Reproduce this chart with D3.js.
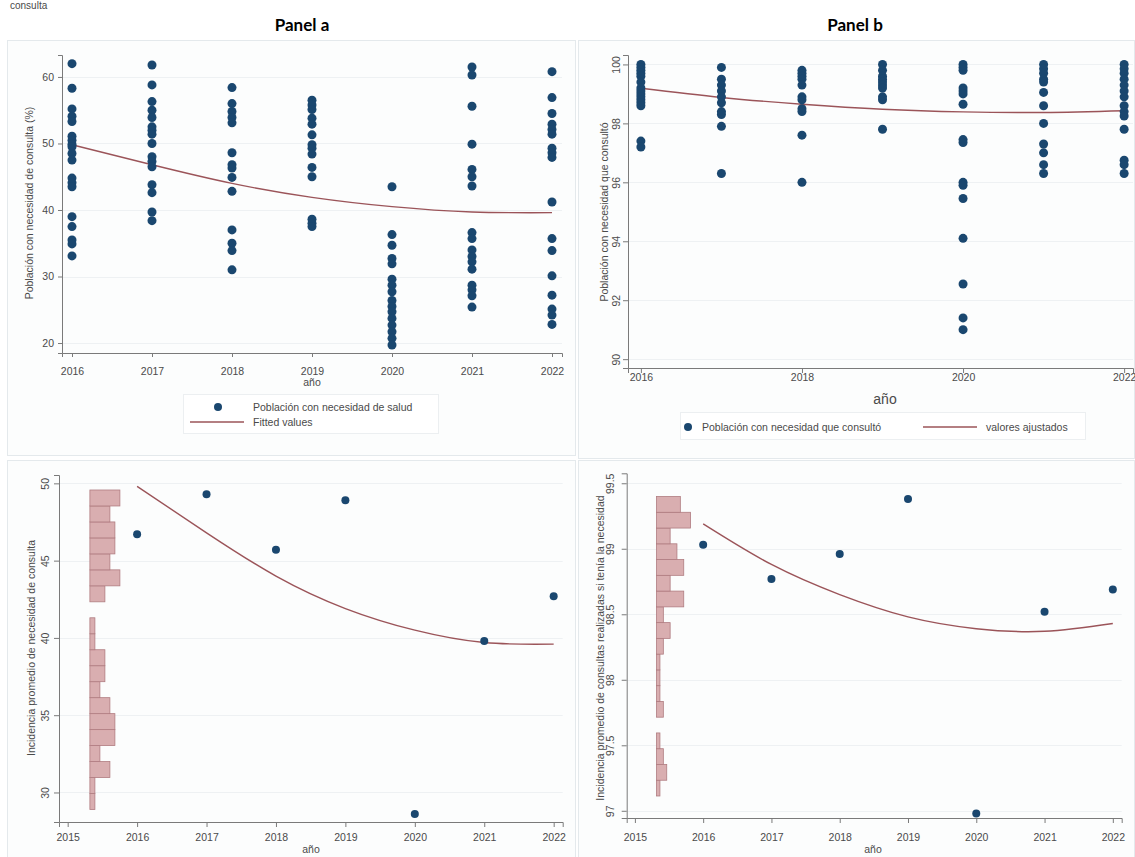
<!DOCTYPE html>
<html>
<head>
<meta charset="utf-8">
<script src="https://cdn.jsdelivr.net/npm/d3@7"></script>
<style>
  body { margin: 0; background: #fff; }
  text { font-family: "Liberation Sans", Arial, sans-serif; fill: #4a4a4a; }
  .title { font-family: Lato, "Open Sans", sans-serif; font-weight: 700; fill: #000; }
</style>
</head>
<body>
<script>
/* Data */

var years = [2016, 2017, 2018, 2019, 2020, 2021, 2022];

// panel a: población con necesidad de salud (%), one list per year
var necesidad2016 = [62.0, 58.3, 55.2, 54.1, 53.3, 51.1, 50.5, 49.9, 49.5, 48.5, 47.5, 44.8, 44.1, 43.5, 39.0, 37.5, 35.5, 34.9, 33.1];
var necesidad2017 = [61.8, 58.8, 56.3, 55.0, 53.9, 52.5, 52.0, 51.4, 50.0, 48.0, 47.3, 46.5, 43.8, 42.6, 39.7, 38.4];
var necesidad2018 = [58.4, 56.0, 54.8, 53.9, 53.1, 48.6, 46.8, 46.3, 44.9, 42.8, 37.0, 35.0, 33.9, 31.0];
var necesidad2019 = [56.5, 55.8, 55.1, 53.8, 52.9, 51.3, 49.8, 49.3, 48.4, 46.4, 45.0, 38.6, 38.0, 37.5];
var necesidad2020 = [43.5, 36.3, 34.7, 32.7, 31.9, 29.6, 28.7, 27.7, 26.4, 25.5, 24.7, 23.7, 22.7, 21.7, 20.7, 19.7];
var necesidad2021 = [61.5, 60.3, 55.6, 49.9, 46.1, 45.0, 43.6, 36.6, 35.7, 34.0, 33.0, 32.2, 31.1, 28.7, 28.0, 27.1, 25.4];
var necesidad2022 = [60.8, 56.9, 54.5, 52.9, 52.1, 51.4, 49.3, 48.6, 47.9, 41.2, 35.7, 33.9, 30.1, 27.2, 25.1, 24.2, 22.8];
var fittedA = [49.8, 46.8, 44.0, 41.9, 40.5, 39.7, 39.6];

// panel b: población con necesidad que consultó (%)
var consulto2016 = [100, 99.9, 99.8, 99.7, 99.6, 99.4, 99.2, 99.1, 99.0, 98.9, 98.8, 98.7, 98.6, 97.4, 97.2];
var consulto2017 = [99.9, 99.5, 99.3, 99.1, 98.9, 98.7, 98.4, 98.3, 97.9, 96.3];
var consulto2018 = [99.8, 99.7, 99.6, 99.5, 99.3, 98.9, 98.8, 98.5, 98.4, 97.6, 96.0];
var consulto2019 = [100, 99.8, 99.6, 99.5, 99.4, 99.3, 99.2, 98.9, 98.8, 97.8];
var consulto2020 = [100, 99.9, 99.8, 99.2, 99.1, 99.0, 98.65, 97.45, 97.35, 96.0, 95.9, 95.45, 94.1, 92.55, 91.4, 91.0];
var consulto2021 = [100, 99.85, 99.7, 99.5, 99.4, 99.05, 98.6, 98.0, 97.3, 97.0, 96.6, 96.3];
var consulto2022 = [100, 99.85, 99.7, 99.5, 99.3, 99.1, 98.9, 98.6, 98.4, 98.25, 97.8, 96.75, 96.6, 96.3];
var fittedB = [99.19, 98.88, 98.65, 98.48, 98.39, 98.37, 98.43];

// promedios anuales (bottom panels)
var meanA = [46.7, 49.3, 45.7, 48.9, 28.6, 39.8, 42.7];
var meanB = [99.03, 98.77, 98.96, 99.38, 96.98, 98.52, 98.69];

// histograms, bins from lowest to highest value
var histAStart = 28.9, histABin = 1.0335;
var histACounts = [1, 1, 4, 2, 5, 5, 4, 2, 3, 3, 1, 1, 0, 3, 6, 4, 5, 5, 4, 6];
var histBStart = 97.113, histBBin = 0.1203;
var histBCounts = [1, 3, 2, 1, 0, 2, 1, 1, 1, 2, 4, 2, 8, 4, 8, 6, 4, 10, 7];

var ticksA = [20, 30, 40, 50, 60],
    ticksB = [90, 92, 94, 96, 98, 100],
    ticksMeanA = [30, 35, 40, 45, 50],
    ticksMeanB = [97, 97.5, 98, 98.5, 99, 99.5],
    yearsEven = [2016, 2018, 2020, 2022],
    yearsAll = [2015, 2016, 2017, 2018, 2019, 2020, 2021, 2022];

/* Styles */

var W = 1135, H = 857;
var DOT = "#1a476f",
    FIT = "#9b5459",
    HIST_FILL = "#d9aeb0",
    HIST_STROKE = "#b07c80",
    GRID = "#eef1f3",
    AXIS = "#7a7a7a",
    FRAME = "#e4e9ec";

var svg = d3.select("body").append("svg")
	.attr("width", W)
	.attr("height", H);

function byYear(lists) {
	var out = [];
	lists.forEach(function(list, i) {
		list.forEach(function(v) { out.push({year: years[i], v: v}); });
	});
	return out;
}

function frame(x0, y0, x1, y1) {
	svg.append("rect")
		.attr("x", x0 + 0.5).attr("y", y0 + 0.5)
		.attr("width", x1 - x0).attr("height", y1 - y0)
		.attr("fill", "#fcfdfd")
		.attr("stroke", FRAME);
}

// p: {x, y, yTicks, xTicks, yRotated, yLabelX, yTitle, yTitleX, yTitleY, xTickY, tickSize, xTitleX, xTitleY}
function drawAxes(p) {
	var g = svg.append("g");
	var x0 = p.x.range()[0], x1 = p.x.range()[1];

	g.selectAll("line.grid")
		.data(p.yTicks)
		.enter().append("line")
		.attr("x1", x0).attr("x2", x1)
		.attr("y1", function(d) { return Math.round(p.y(d)) + 0.5; })
		.attr("y2", function(d) { return Math.round(p.y(d)) + 0.5; })
		.attr("stroke", GRID);

	var yAxis = g.append("g")
		.attr("transform", "translate(" + x0 + ",0)")
		.call(d3.axisLeft(p.y).tickValues(p.yTicks).tickSizeOuter(0).tickSize(p.tickSize).tickFormat(d3.format("")));
	yAxis.select(".domain").attr("stroke", AXIS);
	yAxis.selectAll(".tick line").attr("stroke", AXIS);
	if (p.yRotated) {
		yAxis.selectAll(".tick text")
			.attr("x", null).attr("dy", null)
			.attr("text-anchor", "middle")
			.attr("transform", "translate(" + (p.yLabelX - x0) + ",0) rotate(-90)");
	} else {
		yAxis.selectAll(".tick text").attr("x", p.yLabelX - x0);
	}
	yAxis.selectAll("text").style("font-size", "10.5px").attr("fill", "#4a4a4a");

	var xAxis = g.append("g")
		.attr("transform", "translate(0," + p.y.range()[0] + ")")
		.call(d3.axisBottom(p.x).tickValues(p.xTicks).tickSizeOuter(0).tickSize(p.tickSize).tickFormat(d3.format("d")));
	xAxis.select(".domain").attr("stroke", AXIS);
	xAxis.selectAll(".tick line").attr("stroke", AXIS);
	xAxis.selectAll(".tick text")
		.attr("y", p.xTickY - p.y.range()[0]).attr("dy", null)
		.style("font-size", "10.5px").attr("fill", "#4a4a4a");

	svg.append("text")
		.attr("transform", "translate(" + p.yTitleX + "," + p.yTitleY + ") rotate(-90)")
		.attr("text-anchor", "middle")
		.style("font-size", "10.5px")
		.text(p.yTitle);

	svg.append("text")
		.attr("x", p.xTitleX).attr("y", p.xTitleY)
		.attr("text-anchor", "middle")
		.style("font-size", p.xTitleSize || "10.5px")
		.text("año");
}

function drawFit(x, y, values) {
	var line = d3.line()
		.x(function(d, i) { return x(years[i]); })
		.y(function(d) { return y(d); })
		.curve(d3.curveNatural);
	svg.append("path")
		.attr("d", line(values))
		.attr("fill", "none")
		.attr("stroke", FIT)
		.attr("stroke-width", 1.4);
}

function drawDots(x, y, data, r) {
	svg.append("g").selectAll("circle")
		.data(data)
		.enter().append("circle")
		.attr("cx", function(d) { return x(d.year); })
		.attr("cy", function(d) { return y(d.v); })
		.attr("r", r)
		.attr("fill", DOT);
}

// horizontal histogram, bars grow from year "base", "unit" years per count
function drawHist(x, y, counts, start, bin, base, unit) {
	svg.append("g").selectAll("rect")
		.data(counts.map(function(c, i) { return {c: c, i: i}; }).filter(function(d) { return d.c > 0; }))
		.enter().append("rect")
		.attr("x", x(base))
		.attr("y", function(d) { return y(start + (d.i + 1) * bin); })
		.attr("width", function(d) { return x(base + d.c * unit) - x(base); })
		.attr("height", function(d) { return y(start + d.i * bin) - y(start + (d.i + 1) * bin); })
		.attr("fill", HIST_FILL)
		.attr("stroke", HIST_STROKE)
		.attr("stroke-width", 0.8);
}

/* Titles */

svg.append("text")
	.attr("x", 10).attr("y", 9)
	.style("font-size", "10px")
	.attr("fill", "#999")
	.text("consulta");

svg.append("text").classed("title", true)
	.attr("x", 302).attr("y", 31)
	.attr("text-anchor", "middle")
	.style("font-size", "17px")
	.text("Panel a");

svg.append("text").classed("title", true)
	.attr("x", 855).attr("y", 31)
	.attr("text-anchor", "middle")
	.style("font-size", "17px")
	.text("Panel b");

/* Panel a (top left) */

frame(7, 40, 575, 455);

var xA = d3.scaleLinear().domain([2015.875, 2022.125]).range([62, 562]);
var yA = d3.scaleLinear().domain([18.5, 63.3]).range([353, 55]);

drawAxes({x: xA, y: yA, yTicks: ticksA, xTicks: years, yRotated: false, yLabelX: 54,
	yTitle: "Población con necesidad de consulta (%)", yTitleX: 33, yTitleY: 203,
	xTickY: 375, tickSize: 4, xTitleX: 312, xTitleY: 386});
drawFit(xA, yA, fittedA);
drawDots(xA, yA, byYear([necesidad2016, necesidad2017, necesidad2018, necesidad2019,
	necesidad2020, necesidad2021, necesidad2022]), 4.5);

var legA = svg.append("g");
legA.append("rect")
	.attr("x", 183.5).attr("y", 394.5).attr("width", 255).attr("height", 39)
	.attr("fill", "#fff").attr("stroke", "#eceff1");
legA.append("circle").attr("cx", 218).attr("cy", 407).attr("r", 4).attr("fill", DOT);
legA.append("line").attr("x1", 190).attr("x2", 244).attr("y1", 422).attr("y2", 422)
	.attr("stroke", FIT).attr("stroke-width", 1.4);
legA.append("text").attr("x", 253).attr("y", 411).style("font-size", "10.5px").text("Población con necesidad de salud");
legA.append("text").attr("x", 253).attr("y", 426).style("font-size", "10.5px").text("Fitted values");

/* Panel b (top right) */

frame(578, 40, 1134, 458);

var xB = d3.scaleLinear().domain([2015.84, 2022.11]).range([628, 1133]);
var yB = d3.scaleLinear().domain([89.7, 100.32]).range([368, 55]);

drawAxes({x: xB, y: yB, yTicks: ticksB, xTicks: yearsEven, yRotated: true, yLabelX: 620,
	yTitle: "Población con necesidad que consultó", yTitleX: 608, yTitleY: 212,
	xTickY: 381, tickSize: 5, xTitleX: 885, xTitleY: 404, xTitleSize: "14px"});
drawFit(xB, yB, fittedB);
drawDots(xB, yB, byYear([consulto2016, consulto2017, consulto2018, consulto2019,
	consulto2020, consulto2021, consulto2022]), 4.5);

var legB = svg.append("g");
legB.append("rect")
	.attr("x", 680.5).attr("y", 412.5).attr("width", 405).attr("height", 27)
	.attr("fill", "#fff").attr("stroke", "#eceff1");
legB.append("circle").attr("cx", 688).attr("cy", 427).attr("r", 4).attr("fill", DOT);
legB.append("text").attr("x", 702).attr("y", 431).style("font-size", "10.5px").text("Población con necesidad que consultó");
legB.append("line").attr("x1", 923).attr("x2", 977).attr("y1", 427).attr("y2", 427)
	.attr("stroke", FIT).attr("stroke-width", 1.4);
legB.append("text").attr("x", 986).attr("y", 431).style("font-size", "10.5px").text("valores ajustados");

/* Panel a (bottom left) */

frame(7, 460, 575, 857);

var xC = d3.scaleLinear().domain([2014.875, 2022.13]).range([59, 562.7]);
var yC = d3.scaleLinear().domain([28.09, 50.54]).range([822, 475]);

drawAxes({x: xC, y: yC, yTicks: ticksMeanA, xTicks: yearsAll, yRotated: true, yLabelX: 49,
	yTitle: "Incidencia promedio de necesidad de consulta", yTitleX: 35, yTitleY: 648,
	xTickY: 841, tickSize: 5, xTitleX: 311, xTitleY: 853});
drawHist(xC, yC, histACounts, histAStart, histABin, 2015.32, 0.072);
drawFit(xC, yC, fittedA);
drawDots(xC, yC, meanA.map(function(v, i) { return {year: years[i], v: v}; }), 4);

/* Panel b (bottom right) */

frame(578, 460, 1134, 857);

var xD = d3.scaleLinear().domain([2014.88, 2022.13]).range([626.7, 1121.7]);
var yD = d3.scaleLinear().domain([96.945, 99.576]).range([818, 473.3]);

drawAxes({x: xD, y: yD, yTicks: ticksMeanB, xTicks: yearsAll, yRotated: true, yLabelX: 614,
	yTitle: "Incidencia promedio de consultas realizadas si tenía la necesidad", yTitleX: 604, yTitleY: 648,
	xTickY: 841, tickSize: 5, xTitleX: 873, xTitleY: 853});
drawHist(xD, yD, histBCounts, histBStart, histBBin, 2015.317, 0.0498);
drawFit(xD, yD, fittedB);
drawDots(xD, yD, meanB.map(function(v, i) { return {year: years[i], v: v}; }), 4);
</script>
</body>
</html>
